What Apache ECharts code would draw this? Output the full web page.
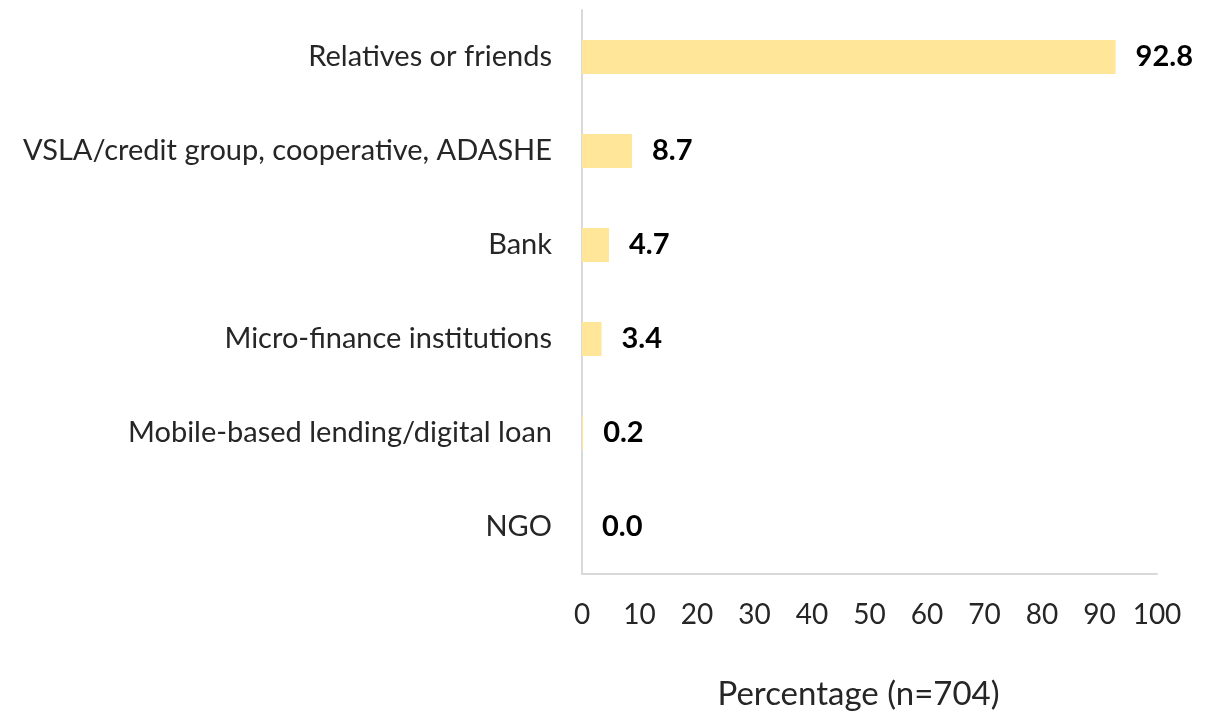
<!DOCTYPE html>
<html>
<head>
<meta charset="utf-8">
<script src="https://cdn.jsdelivr.net/npm/echarts@6/dist/echarts.min.js"></script>
<style>
  html, body { margin: 0; padding: 0; background: #fff; }
  #chart { width: 1220px; height: 716px; }
</style>
</head>
<body>
<div id="chart"></div>
<script>
// Sources of borrowing, top to bottom
const categories = [
  'Relatives or friends',
  'VSLA/credit group, cooperative, ADASHE',
  'Bank',
  'Micro-finance institutions',
  'Mobile-based lending/digital loan',
  'NGO'
];
const percentages = [92.8, 8.7, 4.7, 3.4, 0.2, 0.0];
const xTicks = [0, 10, 20, 30, 40, 50, 60, 70, 80, 90, 100];
const axisTitle = 'Percentage (n=704)';

const FONT = 'Lato, "Open Sans", sans-serif';
const chart = echarts.init(document.getElementById('chart'));

chart.setOption({
  animation: false,
  grid: { left: 582, right: 63, top: 10, bottom: 139 },
  xAxis: {
    type: 'value',
    min: xTicks[0],
    max: xTicks[xTicks.length - 1],
    interval: 10,
    name: axisTitle,
    nameLocation: 'middle',
    nameGap: 104,
    nameTextStyle: { fontFamily: FONT, fontSize: 33, color: '#262626', padding: [0, 22, 0, 0] },
    axisLine: { show: true, lineStyle: { color: '#d9d9d9', width: 2 } },
    axisTick: { show: false },
    splitLine: { show: false },
    axisLabel: { fontFamily: FONT, fontSize: 28, color: '#262626', margin: 27 }
  },
  yAxis: {
    type: 'category',
    inverse: true,
    data: categories,
    axisLine: { show: true, lineStyle: { color: '#d9d9d9', width: 2 } },
    axisTick: { show: false },
    axisLabel: { fontFamily: FONT, fontSize: 29, color: '#262626', margin: 30 }
  },
  series: [{
    type: 'bar',
    data: percentages,
    barWidth: 34,
    itemStyle: { color: '#ffe699' },
    label: {
      show: true,
      position: 'right',
      distance: 20,
      fontFamily: FONT,
      fontSize: 29,
      fontWeight: 'bold',
      color: '#000',
      formatter: p => p.value.toFixed(1)
    }
  }]
});
</script>
</body>
</html>
